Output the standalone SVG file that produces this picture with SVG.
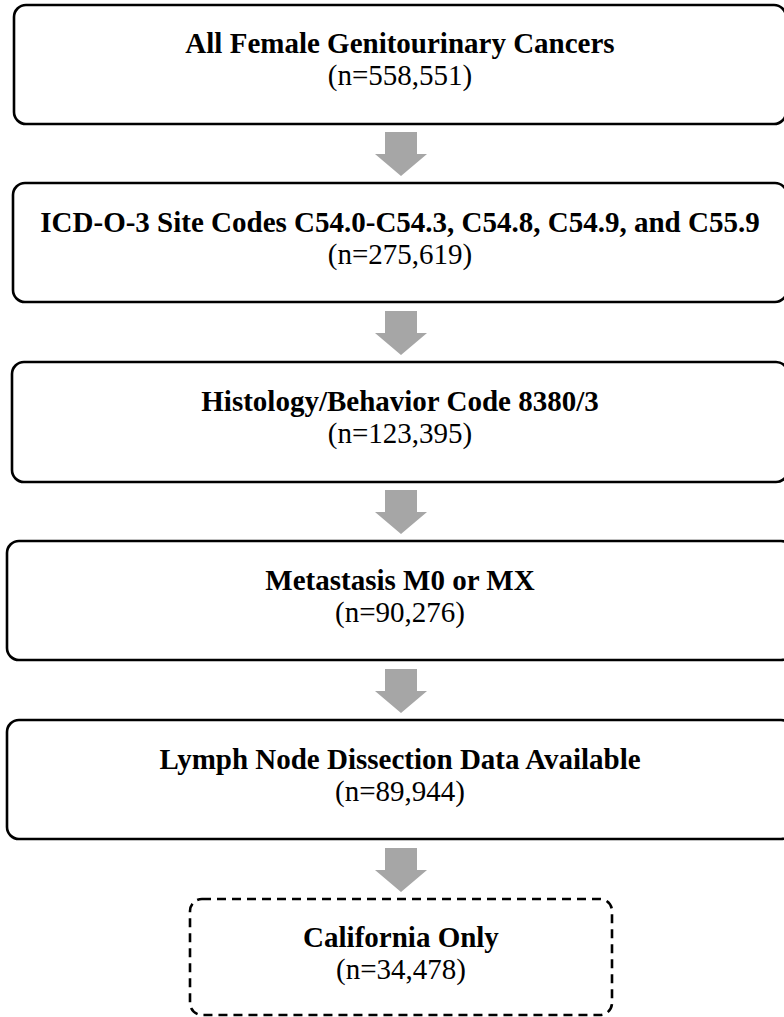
<svg xmlns="http://www.w3.org/2000/svg" width="784" height="1017" viewBox="0 0 784 1017">
<style>
.box{fill:#fff;stroke:#000;stroke-width:2.6}
.dash{stroke-dasharray:9 6}
.t{font-family:"Liberation Serif","Times New Roman",serif;font-size:29px;fill:#000;text-anchor:middle}
.b{font-weight:bold}
.arr{fill:#a6a6a6}
</style>
<rect width="784" height="1017" fill="#fff"/>
<g id="connectors">
<polygon class="arr" points="385,132 417,132 417,154 427,154 401,176 375,154 385,154"/>
<polygon class="arr" points="385,311 417,311 417,333 427,333 401,355 375,333 385,333"/>
<polygon class="arr" points="385,490 417,490 417,512 427,512 401,534 375,512 385,512"/>
<polygon class="arr" points="385,669 417,669 417,691 427,691 401,713 375,691 385,691"/>
<polygon class="arr" points="385,848 417,848 417,870 427,870 401,892 375,870 385,870"/>
</g>
<g id="n1">
<rect class="box" x="14" y="5" width="772" height="119" rx="12"/>
<text class="t b" x="400" y="53">All Female Genitourinary Cancers</text>
<text class="t" x="400" y="85">(n=558,551)</text>
</g>
<g id="n2">
<rect class="box" x="13" y="183" width="774" height="119" rx="12"/>
<text class="t b" x="400" y="232">ICD-O-3 Site Codes C54.0-C54.3, C54.8, C54.9, and C55.9</text>
<text class="t" x="400" y="264">(n=275,619)</text>
</g>
<g id="n3">
<rect class="box" x="12" y="362" width="776" height="120" rx="12"/>
<text class="t b" x="400" y="411">Histology/Behavior Code 8380/3</text>
<text class="t" x="400" y="443">(n=123,395)</text>
</g>
<g id="n4">
<rect class="box" x="7" y="541" width="786" height="119" rx="12"/>
<text class="t b" x="400" y="590">Metastasis M0 or MX</text>
<text class="t" x="400" y="622">(n=90,276)</text>
</g>
<g id="n5">
<rect class="box" x="7" y="720" width="786" height="119" rx="12"/>
<text class="t b" x="400" y="769">Lymph Node Dissection Data Available</text>
<text class="t" x="400" y="801">(n=89,944)</text>
</g>
<g id="n6">
<rect class="box dash" x="190" y="899" width="422" height="116" rx="12"/>
<text class="t b" x="401" y="947">California Only</text>
<text class="t" x="401" y="979">(n=34,478)</text>
</g>
</svg>
